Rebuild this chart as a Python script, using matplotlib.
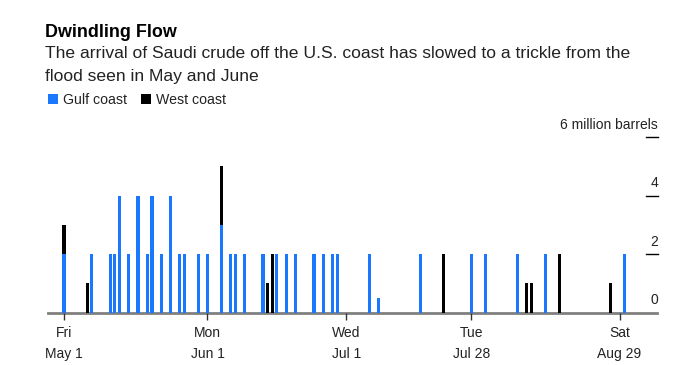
import matplotlib
matplotlib.use("Agg")
import matplotlib.pyplot as plt
import matplotlib.dates as mdates
import matplotlib.transforms as mtransforms
from matplotlib.patches import Rectangle
import pandas as pd

plt.rcParams['font.family'] = ['Liberation Sans', 'DejaVu Sans']

# ---- data ----
dates = ["2020-05-01", "2020-05-06", "2020-05-07", "2020-05-11", "2020-05-12", "2020-05-13",
         "2020-05-15", "2020-05-17", "2020-05-19", "2020-05-20", "2020-05-22", "2020-05-24",
         "2020-05-26", "2020-05-27", "2020-05-30", "2020-06-01", "2020-06-04", "2020-06-06",
         "2020-06-07", "2020-06-09", "2020-06-13", "2020-06-14", "2020-06-15", "2020-06-16",
         "2020-06-18", "2020-06-20", "2020-06-24", "2020-06-26", "2020-06-28", "2020-06-29",
         "2020-07-06", "2020-07-08", "2020-07-17", "2020-07-22", "2020-07-28", "2020-07-31",
         "2020-08-07", "2020-08-09", "2020-08-10", "2020-08-13", "2020-08-16", "2020-08-27",
         "2020-08-30"]
gulf = [2, 0, 2, 2, 2, 4,
        2, 4, 2, 4, 2, 4,
        2, 2, 2, 2, 3, 2,
        2, 2, 2, 0, 0, 2,
        2, 2, 2, 2, 2, 2,
        2, 0.5, 2, 0, 2, 2,
        2, 0, 0, 2, 0, 0,
        2]
west = [1, 1, 0, 0, 0, 0,
        0, 0, 0, 0, 0, 0,
        0, 0, 0, 0, 2, 0,
        0, 0, 0, 1, 2, 0,
        0, 0, 0, 0, 0, 0,
        0, 0, 0, 2, 0, 0,
        0, 1, 1, 0, 2, 1,
        0]
series_names = ["Gulf coast", "West coast"]
series_colors = ["#1a78ff", "#000000"]
xtick_dates = ["2020-05-01", "2020-06-01", "2020-07-01", "2020-07-28", "2020-08-29"]
xtick_labels = ["Fri\nMay 1", "Mon\nJun 1", "Wed\nJul 1", "Tue\nJul 28", "Sat\nAug 29"]
yticks = [0, 2, 4, 6]
ytick_labels = ["0", "2", "4", "6 million barrels"]

title = "Dwindling Flow"
subtitle = ["The arrival of Saudi crude off the U.S. coast has slowed to a trickle from the",
            "flood seen in May and June"]

# ---- figure ----
W, H = 689, 365
fig = plt.figure(figsize=(W / 100, H / 100), dpi=100)
ax = fig.add_axes([48 / W, 1 - 312.5 / H, (657 - 48) / W, (312.5 - 137) / H])

x = mdates.date2num(pd.to_datetime(dates))
bw = 0.68
ax.bar(x, gulf, width=bw, color=series_colors[0], linewidth=0)
ax.bar(x, west, width=bw, bottom=gulf, color=series_colors[1], linewidth=0)

x0 = mdates.date2num(pd.Timestamp("2020-05-01"))
ax.set_xlim(x0 - 3.45, x0 + 128.1)
ax.set_ylim(0, 6)

for s in ["top", "left", "right"]:
    ax.spines[s].set_visible(False)
ax.spines["bottom"].set_color("#808080")
ax.spines["bottom"].set_linewidth(2)
ax.spines["bottom"].set_zorder(0.5)

ax.set_xticks(mdates.date2num(pd.to_datetime(xtick_dates)))
ax.set_xticklabels(xtick_labels, fontsize=10, color="#222222", linespacing=1.6)
ax.tick_params(axis="x", direction="out", length=5, width=1, color="#333333", pad=5)

# y axis: short dashes at right with labels above
ax.set_yticks([])
trans = mtransforms.blended_transform_factory(ax.transAxes, ax.transData)
offset = mtransforms.ScaledTranslation(0, 5 / 100, fig.dpi_scale_trans)
for v, lab in zip(yticks, ytick_labels):
    if v != 0:
        ax.plot([0.982, 1.002], [v, v], color="#000000", lw=1, transform=trans, clip_on=False)
    ax.text(1.002, v, lab, transform=trans + offset, ha="right", va="bottom", fontsize=10,
            color="#222222")

# ---- titles ----
fig.text(45 / W, 1 - 37 / H, title, fontsize=12.9, fontweight="bold", color="#000000", va="baseline")
fig.text(45 / W, 1 - 58.5 / H, subtitle[0], fontsize=12.6, color="#222222", va="baseline")
fig.text(45 / W, 1 - 80.5 / H, subtitle[1], fontsize=12.6, color="#222222", va="baseline")

# ---- legend ----
leg_x = [47.5, 141]
for (lx, name, col) in zip(leg_x, series_names, series_colors):
    fig.patches.append(Rectangle((lx / W, 1 - 104 / H), 10 / W, 10 / H, transform=fig.transFigure,
                                 color=col, linewidth=0))
    fig.text((lx + 15.5) / W, 1 - 104 / H, name, fontsize=10.2, color="#222222", va="baseline")

fig.savefig("out.png", dpi=100)
